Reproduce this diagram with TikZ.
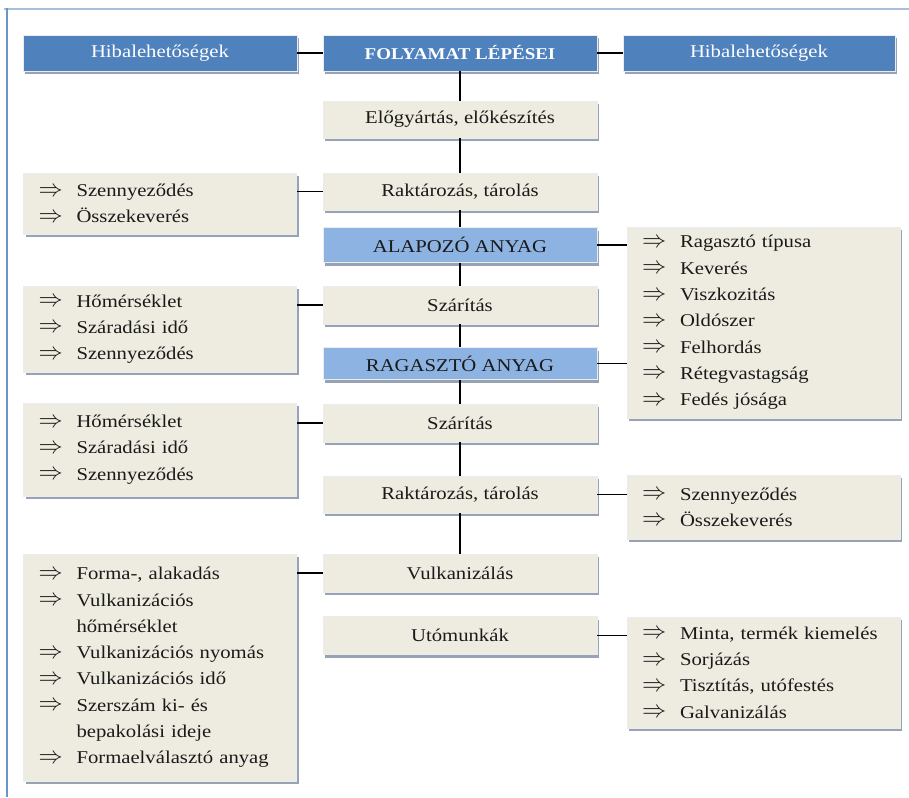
\documentclass[tikz,border=0pt]{standalone}
\usepackage{fontspec}
\setmainfont{Liberation Serif}[FakeStretch=1.15]
\usetikzlibrary{shadows}
\definecolor{hdrblue}{HTML}{4F81BD}
\definecolor{ltblue}{HTML}{8DB3E2}
\definecolor{beige}{HTML}{EEECE1}
\definecolor{shad}{HTML}{97A3B4}
\definecolor{frameL}{HTML}{6A95CC}
\definecolor{frameT}{HTML}{A7BEDC}
\definecolor{txt}{HTML}{1A1A1A}
\newcommand\arrowitem[1]{\mbox{\makebox[38pt][l]{\raisebox{0.5pt}{\scalebox{1.4}{$\Rightarrow$}}}#1}}
\newcommand\contitem[1]{\mbox{\hspace*{38pt}#1}}
\begin{document}
\begin{tikzpicture}[x=1pt,y=-1pt,
  basebox/.style={inner sep=0pt, minimum width=274pt, draw=white!85!gray, line width=0.3pt,
    drop shadow={shadow xshift=2pt, shadow yshift=-3pt, fill=shad, opacity=1},
    font=\fontsize{18}{26.3}\selectfont},
  hdrbox/.style={basebox, fill=hdrblue, text=white, minimum height=36pt},
  procbox/.style={basebox, fill=beige, text=txt},
  matbox/.style={basebox, fill=ltblue, text=txt},
  listbox/.style={basebox, fill=beige, text=txt, align=left, text width=243pt, inner xsep=15pt, minimum width=273pt},
  conn/.style={draw=black, line width=1.2pt}]
\useasboundingbox (0,0) rectangle (909,797);
\draw[frameT, line width=1.6pt] (4,9) -- (909,9);
\draw[frameL, line width=2pt] (7,8.2) -- (7,797);
% headers
\node[hdrbox] (hl) at (160,53) {Hibalehetőségek};
\node[hdrbox, font=\fontsize{16.5}{20}\selectfont\bfseries] (hc) at (460,53) {FOLYAMAT LÉPÉSEI};
\node[hdrbox, minimum width=272pt] (hr) at (759,53) {Hibalehetőségek};
% process steps
\node[procbox, minimum height=37pt] (p1) at (460,119.5) {Előgyártás, előkészítés};
\node[procbox, minimum height=37pt] (p2) at (460,191.5) {Raktározás, tárolás};
\node[matbox, minimum height=35pt] (m1) at (460,245) {ALAPOZÓ ANYAG};
\node[procbox, minimum height=38pt] (p3) at (460,305) {Szárítás};
\node[matbox, minimum height=32pt] (m2) at (460,363.5) {RAGASZTÓ ANYAG};
\node[procbox, minimum height=38pt] (p4) at (460,423) {Szárítás};
\node[procbox, minimum height=37pt] (p5) at (460,494.5) {Raktározás, tárolás};
\node[procbox, minimum height=38pt] (p6) at (460,573) {Vulkanizálás};
\node[procbox, minimum height=38pt] (p7) at (460,635.5) {Utómunkák};
% left lists
\node[listbox, minimum height=61pt] (l1) at (160,203.5) {\arrowitem{Szennyeződés}\\\arrowitem{Összekeverés}};
\node[listbox, minimum height=86pt] (l2) at (160,329) {\arrowitem{Hőmérséklet}\\\arrowitem{Száradási idő}\\\arrowitem{Szennyeződés}};
\node[listbox, minimum height=93pt] (l3) at (160,449.5) {\arrowitem{Hőmérséklet}\\\arrowitem{Száradási idő}\\\arrowitem{Szennyeződés}};
\node[listbox, minimum height=227pt] (l4) at (160,667.5) {\arrowitem{Forma-, alakadás}\\\arrowitem{Vulkanizációs}\\\contitem{hőmérséklet}\\\arrowitem{Vulkanizációs nyomás}\\\arrowitem{Vulkanizációs idő}\\\arrowitem{Szerszám ki- és}\\\contitem{bepakolási ideje}\\\arrowitem{Formaelválasztó anyag}};
% right lists
\node[listbox, minimum height=191pt] (r1) at (763.5,322.5) {\arrowitem{Ragasztó típusa}\\\arrowitem{Keverés}\\\arrowitem{Viszkozitás}\\\arrowitem{Oldószer}\\\arrowitem{Felhordás}\\\arrowitem{Rétegvastagság}\\\arrowitem{Fedés jósága}};
\node[listbox, minimum height=64pt] (r2) at (763.5,507) {\arrowitem{Szennyeződés}\\\arrowitem{Összekeverés}};
\node[listbox, minimum height=111pt] (r3) at (763.5,672.5) {\arrowitem{Minta, termék kiemelés}\\\arrowitem{Sorjázás}\\\arrowitem{Tisztítás, utófestés}\\\arrowitem{Galvanizálás}};
% connectors
\draw[conn] (hl.east) -- (hc.west);
\draw[conn] (hc.east) -- (hr.west);
\draw[conn] (hc.south) -- (p1.north);
\draw[conn] (p1.south) -- (p2.north);
\draw[conn] (p2.south) -- (m1.north);
\draw[conn] (m1.south) -- (p3.north);
\draw[conn] (p3.south) -- (m2.north);
\draw[conn] (m2.south) -- (p4.north);
\draw[conn] (p4.south) -- (p5.north);
\draw[conn] (p5.south) -- (p6.north);
\draw[conn] (p2.west) -- (p2.west -| l1.east);
\draw[conn] (p3.west) -- (p3.west -| l2.east);
\draw[conn] (p4.west) -- (p4.west -| l3.east);
\draw[conn] (p6.west) -- (p6.west -| l4.east);
\draw[conn] (m1.east) -- (m1.east -| r1.west);
\draw[conn] (m2.east) -- (m2.east -| r1.west);
\draw[conn] (p5.east) -- (p5.east -| r2.west);
\draw[conn] (p7.east) -- (p7.east -| r3.west);
\end{tikzpicture}
\end{document}
